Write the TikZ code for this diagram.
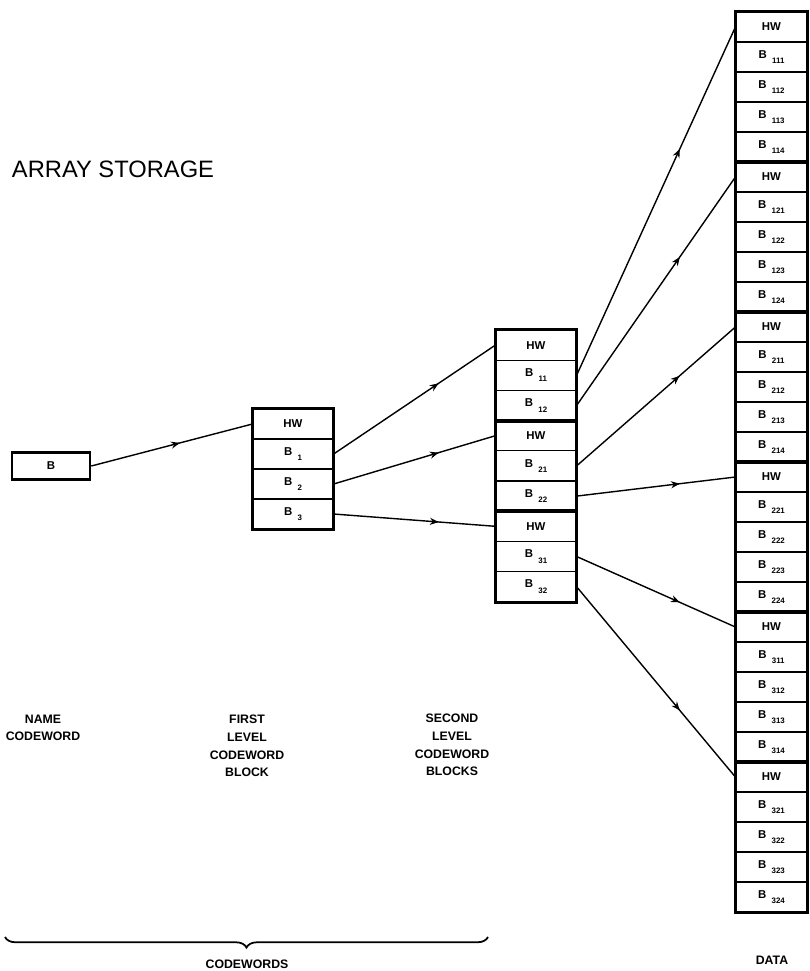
\documentclass[tikz,border=0pt]{standalone}
\usepackage{fontspec}
\setmainfont{Liberation Sans}
\usetikzlibrary{decorations.markings,decorations.pathreplacing,arrows.meta}

\newcommand{\cellsub}[1]{\hspace{3pt}\raisebox{-2pt}{\fontsize{4.5}{5}\selectfont\bfseries #1}}
\newcommand{\bcell}[1]{\raisebox{1pt}{B}\cellsub{#1}}

\tikzset{
  cell/.style={draw, line width=0.7pt, inner sep=0pt, font=\fontsize{6.5}{7}\selectfont\bfseries},
  cellF/.style={cell, minimum width=1.6cm, minimum height=0.6cm},
  cellS/.style={cell, minimum width=1.6cm, minimum height=0.604cm},
  cellD/.style={cell, minimum width=1.42cm, minimum height=0.6cm},
  group/.style={line width=1.5pt},
  midarrow/.style={line width=0.8pt, decoration={markings, mark=at position #1 with {\arrow{Stealth[length=5pt,width=4pt]}}}, postaction={decorate}},
  midarrow/.default=0.6,
  lab/.style={align=center, font=\fontsize{7}{10}\selectfont\bfseries}
}

\begin{document}
\begin{tikzpicture}[x=0.02cm, y=-0.02cm]
  \useasboundingbox (0,0) rectangle (809,971);
  \node[font=\fontsize{13.5}{15}\selectfont] (title) at (113,169) {ARRAY STORAGE};

  \node[cell, group, minimum width=1.56cm, minimum height=0.54cm] (n) at (51,466) {B};

  \foreach \lab [count=\r from 0] in {HW, \bcell{1}, \bcell{2}, \bcell{3}}
    \node[cellF] (f\r) at (293, {424+30*\r}) {\lab};
  \draw[group] (f0.north west) rectangle (f3.south east);
  \draw[midarrow=0.55] (n.east) -- (f0.west);

  \foreach \i in {1,2,3} {
    \node[cellS] (hw\i) at (536, {345.1+90.6*(\i-1)}) {HW};
    \foreach \j in {1,2}
      \node[cellS] (b\i\j) at (536, {345.1+90.6*(\i-1)+30.2*\j}) {\bcell{\i\j}};
    \draw[group] (hw\i.north west) rectangle (b\i2.south east);
    \draw[midarrow=0.65] (f\i.east) -- (hw\i.west);
  }

  \foreach \i in {1,2,3} \foreach \j in {1,2} {
    \pgfmathsetmacro\ytop{27+150*(2*\i+\j-3)}
    \node[cellD] (hw\i\j) at (771.5, \ytop) {HW};
    \foreach \m in {1,...,4}
      \node[cellD] (b\i\j\m) at (771.5, {\ytop+30*\m}) {\bcell{\i\j\m}};
    \draw[group] (hw\i\j.north west) rectangle (b\i\j4.south east);
    \draw[midarrow=0.65] (b\i\j.east) -- (hw\i\j.west);
  }

  \node[lab] (lname) at (43,728) {NAME\\CODEWORD};
  \node[lab] (lfirst) at (247,746) {FIRST\\LEVEL\\CODEWORD\\BLOCK};
  \node[lab] (lsecond) at (452,745) {SECOND\\LEVEL\\CODEWORD\\BLOCKS};
  \node[lab] (ldata) at (772,960) {DATA};
  \coordinate (bl) at (5,937);
  \coordinate (br) at (488,937);
  \draw[line width=1pt, decorate, decoration={brace, mirror, amplitude=6pt, aspect=0.5}] (bl) -- (br);
  \node[lab] (lcode) at (247,964) {CODEWORDS};
\end{tikzpicture}
\end{document}
